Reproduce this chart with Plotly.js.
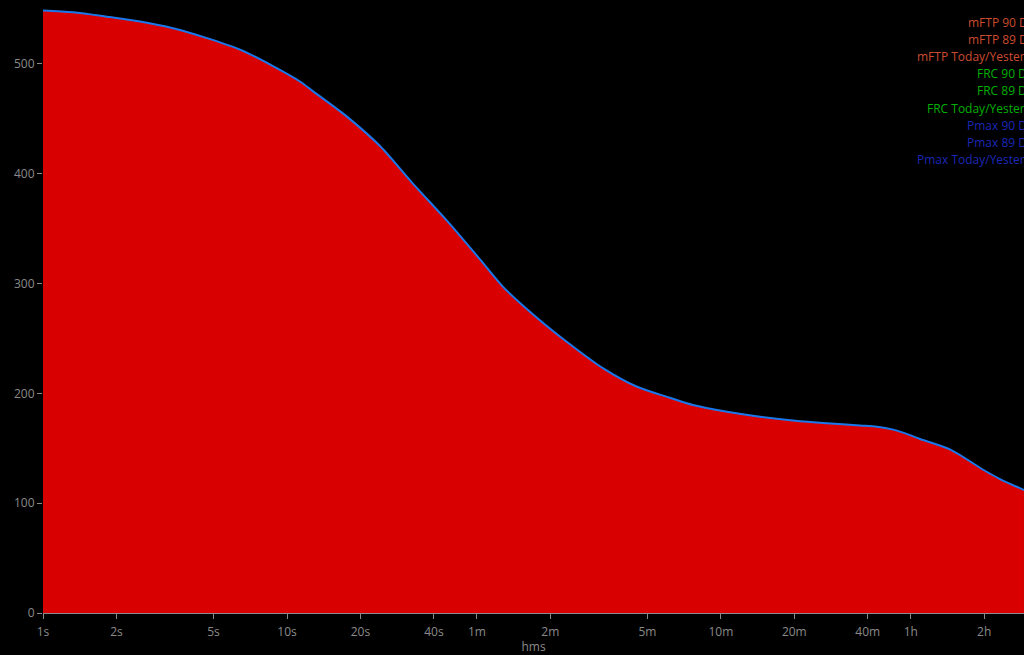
<!DOCTYPE html>
<html>
<head>
<meta charset="utf-8">
<script src="https://cdn.plot.ly/plotly-3.0.1.min.js"></script>
<style>
html,body{margin:0;padding:0;background:#000;}
#chart{width:1024px;height:655px;}
</style>
</head>
<body>
<div id="chart"></div>
<script>
// Durations in seconds (log axis) and mean-maximal power values (W)
const durations = [1, 1.33, 1.83, 2.5, 3.41, 4.7, 6.42, 8.76, 11.3, 12.8, 17.6, 24.1, 32.8, 45.3, 61.8, 76.8, 106, 144, 197, 272, 371, 461, 636, 868, 1185, 1633, 2230, 2618, 3047, 3575, 3927, 5212, 7190, 8358, 10480];
const power = [548.7, 547, 543, 538.6, 532.5, 523.5, 513, 498, 484, 475, 452, 425, 391, 357, 322, 297, 268.7, 245, 223, 206, 196, 189.4, 183.3, 178.8, 175.4, 172.8, 170.8, 169.7, 167, 162, 158.5, 149, 130, 122, 112];

const tickVals = [1, 2, 5, 10, 20, 40, 60, 120, 300, 600, 1200, 2400, 3600, 7200];
const tickText = ["1s", "2s", "5s", "10s", "20s", "40s", "1m", "2m", "5m", "10m", "20m", "40m", "1h", "2h"];

const legendLabels = ["mFTP 90 Days", "mFTP 89 Days", "mFTP Today/Yesterday", "FRC 90 Days", "FRC 89 Days", "FRC Today/Yesterday", "Pmax 90 Days", "Pmax 89 Days", "Pmax Today/Yesterday"];
const legendColors = ["#cc4c30", "#cc4c30", "#cc4c30", "#00b000", "#00b000", "#00b000", "#1a28b8", "#1a28b8", "#1a28b8"];

const font = "Open Sans, Noto Sans, sans-serif";

const annotations = legendLabels.map((t, i) => ({
  text: t,
  xref: "paper", yref: "paper",
  x: 1.0245, xanchor: "right",
  y: (613 - (22.5 + i * 17.1)) / 604, yanchor: "middle",
  showarrow: false,
  font: {family: font, size: 12, color: legendColors[i]}
}));

const trace = {
  x: durations,
  y: power,
  type: "scatter",
  mode: "lines",
  fill: "tozeroy",
  fillcolor: "#d80000",
  line: {color: "#1a78ec", width: 2, shape: "spline", smoothing: 0.8},
  hoverinfo: "skip"
};

const layout = {
  width: 1024, height: 655,
  paper_bgcolor: "#000", plot_bgcolor: "#000",
  margin: {l: 43, r: 0, t: 9, b: 42},
  showlegend: false,
  font: {family: font, size: 12, color: "#8a8a8a"},
  xaxis: {
    type: "log",
    range: [0, 4.0205],
    tickvals: tickVals, ticktext: tickText,
    ticks: "outside", ticklen: 5, tickcolor: "#8a8a8a",
    ticklabelstandoff: 3,
    showgrid: false, zeroline: false,
    showline: true, linecolor: "#8a8a8a", linewidth: 1,
    tickfont: {family: font, size: 12, color: "#8a8a8a"},
    title: {text: "hms", font: {family: font, size: 12, color: "#8a8a8a"}, standoff: 1}
  },
  yaxis: {
    range: [0, 550],
    tickvals: [0, 100, 200, 300, 400, 500],
    ticks: "outside", ticklen: 5, tickcolor: "#8a8a8a",
    showgrid: false, zeroline: false, showline: false,
    tickfont: {family: font, size: 12, color: "#8a8a8a"}
  },
  annotations: annotations
};

Plotly.newPlot("chart", [trace], layout, {displayModeBar: false, staticPlot: true});
</script>
</body>
</html>
